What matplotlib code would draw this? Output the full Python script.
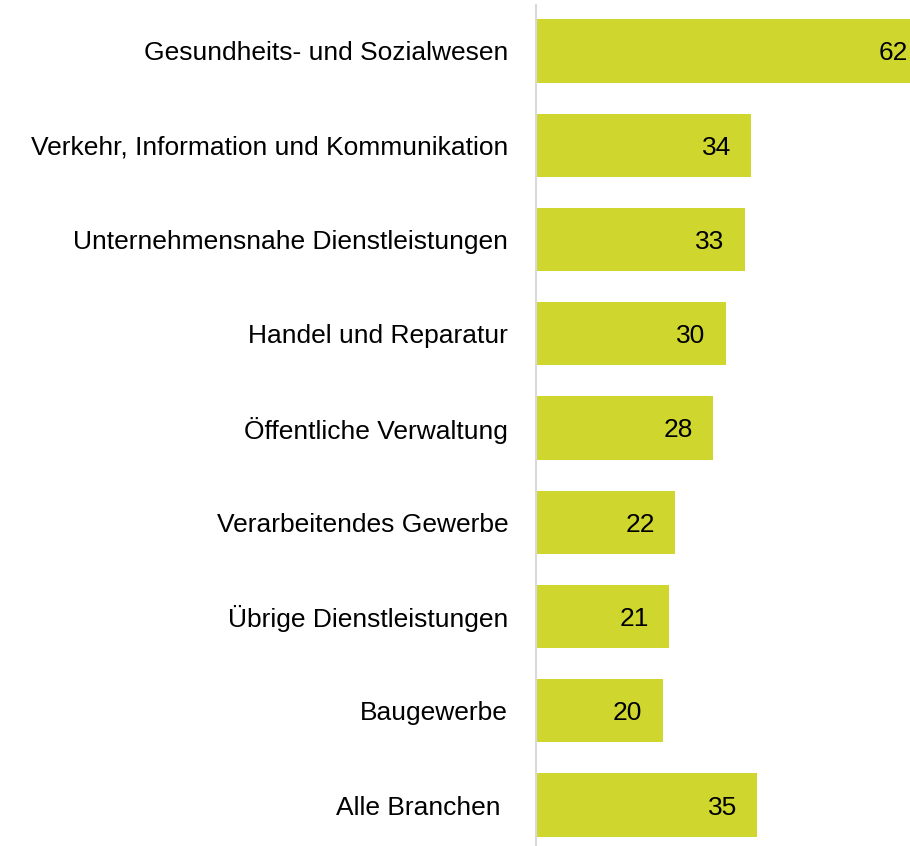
import matplotlib
matplotlib.use("Agg")
import matplotlib.pyplot as plt

categories = [
    "Gesundheits- und Sozialwesen",
    "Verkehr, Information und Kommunikation",
    "Unternehmensnahe Dienstleistungen",
    "Handel und Reparatur",
    "Öffentliche Verwaltung",
    "Verarbeitendes Gewerbe",
    "Übrige Dienstleistungen",
    "Baugewerbe",
    "Alle Branchen ",
]
values = [62, 34, 33, 30, 28, 22, 21, 20, 35]

W, H = 910, 846
fig = plt.figure(figsize=(W / 100, H / 100), dpi=100)
left_px, top_px = 536, 5
ax = fig.add_axes([left_px / W, 0, (W - left_px) / W, (H - top_px) / H])

bar_color = "#CFD72F"
pos = list(range(len(categories)))
ax.barh(pos, values, height=0.67, color=bar_color, zorder=2)
ax.set_xlim(0, 59.1)
ax.set_ylim(8.435, -0.488)

for p, v in zip(pos, values):
    ax.text(v - 5.5, p, str(v), ha="center", va="center_baseline", fontsize=19,
            family="Liberation Sans", color="black", clip_on=True)

ax.set_yticks(pos)
ax.set_yticklabels(categories, fontsize=19, family="Liberation Sans")
ax.tick_params(axis="y", length=0, pad=20)
ax.set_xticks([])
for s in ["top", "right", "bottom"]:
    ax.spines[s].set_visible(False)
ax.spines["left"].set_color("#D9D9D9")
ax.spines["left"].set_linewidth(1.5)

fig.savefig("out.png", dpi=100)
